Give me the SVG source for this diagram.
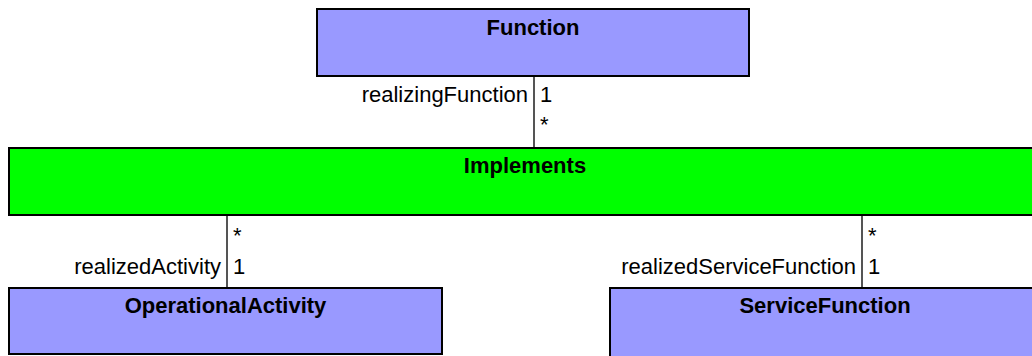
<svg xmlns="http://www.w3.org/2000/svg" width="1032" height="356" viewBox="0 0 1032 356">
<style>
.box{fill:#9999ff;stroke:#000;stroke-width:2}
.green{fill:#00ff00;stroke:#000;stroke-width:2}
.title{font-family:"Liberation Sans",Arial,sans-serif;font-weight:bold;font-size:22px;text-anchor:middle;fill:#000}
.lbl{font-family:"Liberation Sans",Arial,sans-serif;font-size:22px;fill:#000}
.end{text-anchor:end}
.conn{stroke:#555;stroke-width:2;fill:none}
</style>
<rect width="1032" height="356" fill="#fff"/>
<g id="connectors">
<line class="conn" x1="534" y1="76" x2="534" y2="148"/>
<line class="conn" x1="227" y1="215" x2="227" y2="288"/>
<line class="conn" x1="862" y1="215" x2="862" y2="288"/>
<text class="lbl end" x="528" y="102">realizingFunction</text>
<text class="lbl" x="540" y="102">1</text>
<text class="lbl" x="540" y="132">*</text>
<text class="lbl" x="233" y="243">*</text>
<text class="lbl end" x="221" y="274">realizedActivity</text>
<text class="lbl" x="233" y="274">1</text>
<text class="lbl" x="868" y="243">*</text>
<text class="lbl end" x="856" y="274">realizedServiceFunction</text>
<text class="lbl" x="868" y="274">1</text>
</g>
<g id="Function">
<rect class="box" x="317" y="9" width="432" height="67"/>
<text class="title" x="533" y="35">Function</text>
</g>
<g id="Implements">
<rect class="green" x="9" y="148" width="1032" height="67"/>
<text class="title" x="525" y="173">Implements</text>
</g>
<g id="OperationalActivity">
<rect class="box" x="9" y="288" width="433" height="66"/>
<text class="title" x="225.5" y="313">OperationalActivity</text>
</g>
<g id="ServiceFunction">
<rect class="box" x="610" y="288" width="430" height="70"/>
<text class="title" x="825" y="313">ServiceFunction</text>
</g>
</svg>
